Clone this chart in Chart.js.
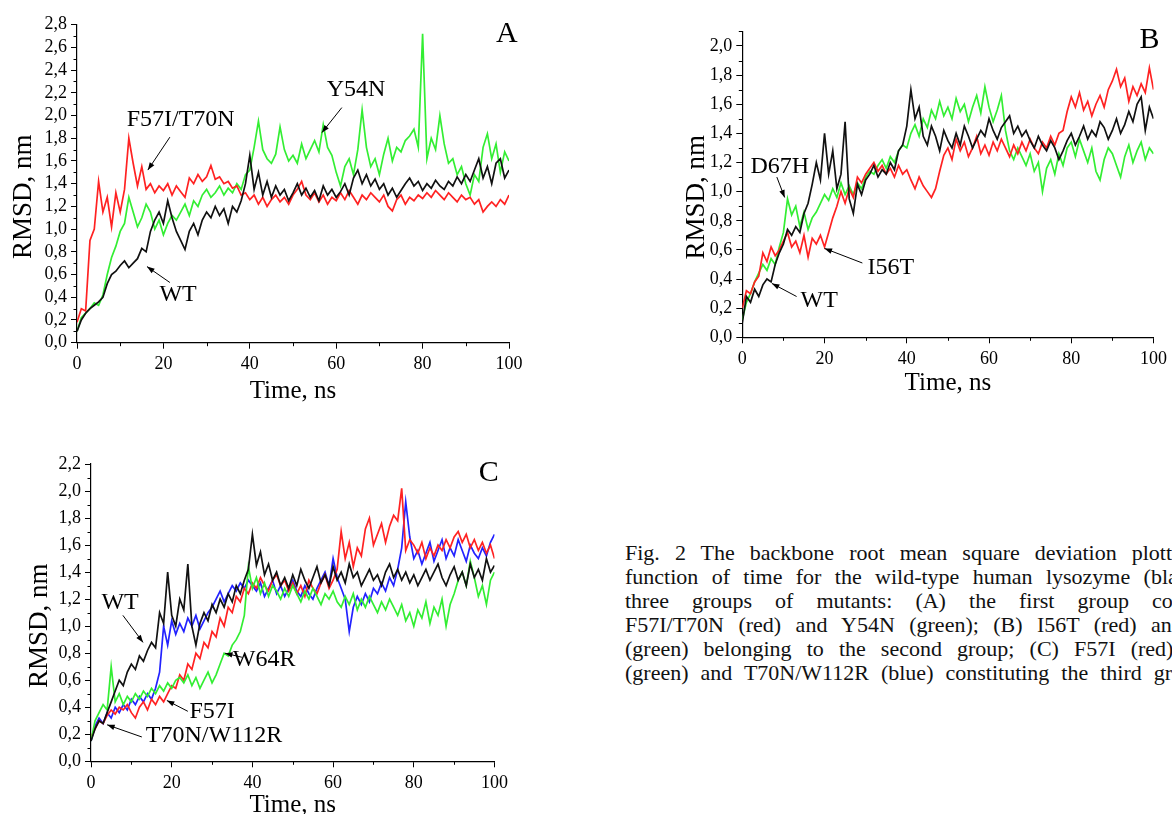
<!DOCTYPE html>
<html>
<head>
<meta charset="utf-8">
<script src="https://cdn.jsdelivr.net/npm/chart.js@4.4.0/dist/chart.umd.min.js"></script>
<style>
  html, body { margin: 0; padding: 0; background: #fff; }
  body { width: 1172px; height: 814px; overflow: hidden; position: relative; }
  canvas { position: absolute; }
  #caption { position: absolute; left: 625px; top: 541px; font: 22px 'Liberation Serif', 'Times New Roman', serif; color: #111; line-height: 24px; }
  #caption div { width: 626px; white-space: nowrap; text-align: justify; text-align-last: justify; }
  #caption div.last { text-align-last: left; word-spacing: 6.5px; }
</style>
</head>
<body>
<canvas id="chartA" width="560" height="410" style="left:0;top:0"></canvas>
<canvas id="chartB" width="532" height="410" style="left:640px;top:0"></canvas>
<canvas id="chartC" width="560" height="384" style="left:0;top:430px"></canvas>
<div id="caption">
  <div>Fig. 2 The backbone root mean square deviation plotted as a</div>
  <div>function of time for the wild-type human lysozyme (black) and</div>
  <div>three groups of mutants: (A) the first group comprising</div>
  <div>F57I/T70N (red) and Y54N (green); (B) I56T (red) and D67H</div>
  <div>(green) belonging to the second group; (C) F57I (red), W64R</div>
  <div class="last">(green) and T70N/W112R (blue) constituting the third group.</div>
</div>
<script>
// time, ns
const time = [0,1,2,3,4,5,6,7,8,9,10,11,12,13,14,15,16,17,18,19,20,21,22,23,24,25,26,27,28,29,30,
  31,32,33,34,35,36,37,38,39,40,41,42,43,44,45,46,47,48,49,50,51,52,53,54,55,56,57,58,59,60,
  61,62,63,64,65,66,67,68,69,70,71,72,73,74,75,76,77,78,79,80,81,82,83,84,85,86,87,88,89,90,
  91,92,93,94,95,96,97,98,99,100]

// panel A: WT, F57I/T70N, Y54N (RMSD, nm)
const wtA = [0.10,0.20,0.26,0.30,0.33,0.36,0.40,0.52,0.60,0.63,0.68,0.72,0.66,0.70,0.74,0.83,0.80,0.98,1.08,1.15,
  1.05,1.25,1.10,0.98,0.90,0.82,0.98,1.05,0.95,1.08,1.15,1.10,1.20,1.12,1.18,1.05,1.20,1.15,1.25,1.40,
  1.65,1.35,1.50,1.30,1.42,1.28,1.38,1.30,1.35,1.25,1.32,1.40,1.30,1.36,1.28,1.34,1.25,1.38,1.30,1.35,
  1.28,1.33,1.40,1.30,1.45,1.52,1.40,1.48,1.38,1.44,1.35,1.40,1.30,1.36,1.28,1.34,1.40,1.45,1.38,1.42,
  1.34,1.40,1.36,1.43,1.38,1.35,1.42,1.38,1.46,1.40,1.48,1.42,1.52,1.62,1.45,1.55,1.40,1.58,1.62,1.45,1.52]
const f57iT70nA = [0.18,0.30,0.28,0.90,1.00,1.42,1.15,1.28,1.02,1.32,1.15,1.35,1.80,1.58,1.38,1.55,1.35,1.40,1.32,1.38,
  1.34,1.40,1.30,1.38,1.33,1.28,1.45,1.40,1.48,1.42,1.46,1.56,1.44,1.46,1.40,1.42,1.36,1.38,1.30,1.32,
  1.26,1.30,1.22,1.28,1.20,1.26,1.30,1.24,1.28,1.22,1.30,1.35,1.42,1.30,1.26,1.32,1.24,1.30,1.22,1.28,
  1.25,1.32,1.26,1.34,1.28,1.22,1.30,1.26,1.32,1.28,1.24,1.30,1.20,1.16,1.26,1.30,1.22,1.28,1.25,1.30,
  1.27,1.32,1.28,1.34,1.30,1.26,1.32,1.28,1.24,1.30,1.26,1.28,1.22,1.26,1.15,1.20,1.24,1.20,1.26,1.22,1.30]
const y54nA = [0.10,0.22,0.26,0.30,0.35,0.33,0.42,0.60,0.75,0.85,0.98,1.05,1.28,1.15,1.02,1.10,1.22,1.15,1.00,1.08,
  0.95,1.05,1.12,1.08,1.15,1.22,1.12,1.25,1.20,1.30,1.35,1.28,1.32,1.38,1.30,1.36,1.32,1.40,1.35,1.48,
  1.52,1.72,1.95,1.70,1.62,1.58,1.66,1.90,1.70,1.60,1.65,1.58,1.75,1.62,1.70,1.78,1.68,1.92,1.72,1.65,
  1.50,1.38,1.55,1.62,1.48,1.70,2.05,1.72,1.55,1.62,1.48,1.66,1.80,1.60,1.72,1.68,1.78,1.82,1.88,1.72,
  2.72,1.62,1.80,1.70,2.00,1.75,1.58,1.62,1.48,1.55,1.40,1.30,1.48,1.42,1.72,1.84,1.62,1.75,1.50,1.68,1.60]

// panel B: WT, I56T, D67H
const wtB = [0.10,0.28,0.24,0.33,0.28,0.36,0.40,0.38,0.50,0.58,0.64,0.74,0.70,0.76,0.72,0.85,0.92,1.05,1.20,1.08,
  1.40,1.12,1.28,1.02,1.12,1.48,0.95,0.85,1.05,0.98,1.08,1.12,1.18,1.10,1.15,1.12,1.20,1.15,1.28,1.32,
  1.45,1.70,1.50,1.58,1.38,1.32,1.45,1.38,1.28,1.42,1.35,1.30,1.40,1.32,1.45,1.38,1.30,1.36,1.42,1.38,
  1.50,1.42,1.36,1.44,1.48,1.52,1.40,1.45,1.38,1.42,1.35,1.30,1.38,1.32,1.28,1.35,1.30,1.22,1.28,1.35,
  1.40,1.32,1.38,1.45,1.36,1.42,1.38,1.48,1.44,1.36,1.42,1.50,1.40,1.46,1.55,1.48,1.60,1.65,1.42,1.58,1.50]
const i56tB = [0.20,0.32,0.30,0.38,0.42,0.58,0.52,0.62,0.56,0.60,0.66,0.72,0.62,0.66,0.58,0.70,0.55,0.68,0.64,0.70,
  0.62,0.72,0.82,0.90,1.00,0.92,1.02,0.96,1.10,1.06,1.12,1.16,1.20,1.14,1.18,1.12,1.16,1.10,1.18,1.12,
  1.15,1.08,1.02,1.10,1.04,1.00,0.96,1.02,1.14,1.25,1.30,1.22,1.36,1.28,1.34,1.24,1.30,1.38,1.26,1.32,
  1.25,1.34,1.28,1.36,1.30,1.24,1.32,1.26,1.34,1.28,1.36,1.30,1.26,1.34,1.30,1.38,1.32,1.40,1.42,1.55,
  1.65,1.58,1.68,1.56,1.62,1.52,1.60,1.66,1.58,1.70,1.76,1.84,1.72,1.78,1.62,1.72,1.66,1.74,1.68,1.85,1.70]
const d67hB = [0.12,0.24,0.30,0.38,0.44,0.50,0.46,0.54,0.50,0.62,0.72,0.95,0.84,0.90,0.76,0.86,0.74,0.82,0.86,0.92,
  0.98,0.94,1.02,0.96,1.06,0.98,1.04,0.98,1.06,1.02,1.10,1.14,1.12,1.18,1.22,1.16,1.24,1.20,1.28,1.32,
  1.30,1.40,1.46,1.38,1.50,1.44,1.56,1.50,1.62,1.52,1.58,1.50,1.64,1.55,1.60,1.48,1.58,1.66,1.54,1.72,
  1.58,1.48,1.56,1.66,1.42,1.28,1.22,1.30,1.24,1.18,1.26,1.14,1.20,1.00,1.16,1.22,1.12,1.26,1.18,1.30,
  1.34,1.24,1.36,1.28,1.20,1.30,1.14,1.08,1.22,1.30,1.26,1.18,1.10,1.24,1.32,1.20,1.28,1.34,1.22,1.30,1.26]

// panel C: WT, F57I, W64R, T70N/W112R
const wtC = [0.15,0.24,0.30,0.28,0.36,0.44,0.52,0.60,0.56,0.66,0.72,0.68,0.78,0.74,0.82,0.88,0.84,1.10,1.02,1.40,
  1.08,1.00,1.20,1.12,1.46,1.00,0.86,1.02,1.10,1.04,1.16,1.10,1.20,1.14,1.24,1.18,1.30,1.24,1.34,1.42,
  1.68,1.45,1.55,1.38,1.46,1.34,1.40,1.30,1.36,1.28,1.38,1.30,1.42,1.34,1.28,1.36,1.44,1.32,1.38,1.30,
  1.44,1.34,1.40,1.32,1.46,1.36,1.40,1.30,1.36,1.42,1.34,1.38,1.30,1.40,1.46,1.36,1.42,1.34,1.40,1.32,
  1.38,1.30,1.36,1.42,1.34,1.40,1.46,1.36,1.30,1.38,1.44,1.34,1.40,1.30,1.46,1.36,1.42,1.34,1.50,1.40,1.45]
const f57iC = [0.18,0.24,0.30,0.28,0.34,0.38,0.35,0.40,0.38,0.42,0.36,0.32,0.40,0.44,0.38,0.46,0.42,0.48,0.44,0.50,
  0.56,0.54,0.64,0.60,0.72,0.68,0.80,0.76,0.88,0.84,0.96,0.92,1.06,1.00,1.14,1.10,1.22,1.18,1.28,1.24,
  1.32,1.28,1.36,1.30,1.26,1.34,1.38,1.30,1.34,1.26,1.32,1.24,1.30,1.22,1.34,1.28,1.24,1.32,1.38,1.28,
  1.34,1.42,1.70,1.50,1.62,1.44,1.58,1.52,1.72,1.80,1.60,1.68,1.76,1.62,1.74,1.82,1.78,2.02,1.56,1.64,
  1.60,1.54,1.62,1.50,1.58,1.52,1.60,1.56,1.64,1.58,1.66,1.70,1.62,1.68,1.58,1.64,1.56,1.62,1.54,1.60,1.50]
const w64rC = [0.15,0.30,0.36,0.42,0.38,0.70,0.44,0.50,0.42,0.48,0.44,0.50,0.46,0.52,0.48,0.54,0.50,0.56,0.52,0.58,
  0.54,0.60,0.62,0.58,0.64,0.56,0.62,0.54,0.60,0.66,0.58,0.64,0.72,0.80,0.78,0.86,0.90,0.96,1.08,1.44,
  1.28,1.36,1.24,1.32,1.22,1.30,1.26,1.20,1.28,1.22,1.30,1.24,1.18,1.26,1.20,1.28,1.22,1.16,1.24,1.20,
  1.26,1.18,1.14,1.22,1.16,1.24,1.12,1.20,1.14,1.22,1.16,1.10,1.18,1.12,1.20,1.14,1.08,1.16,1.04,1.10,
  1.00,1.12,1.06,1.18,1.02,1.14,1.08,1.20,1.00,1.16,1.24,1.34,1.40,1.30,1.48,1.36,1.22,1.30,1.16,1.34,1.40]
const t70nW112rC = [0.15,0.26,0.32,0.28,0.36,0.32,0.40,0.36,0.42,0.38,0.46,0.42,0.48,0.44,0.50,0.46,0.54,0.66,1.00,0.86,
  1.04,0.94,1.02,0.96,1.06,1.00,1.08,0.98,1.04,1.10,1.14,1.20,1.26,1.18,1.24,1.30,1.26,1.32,1.28,1.34,
  1.30,1.26,1.32,1.22,1.28,1.34,1.24,1.30,1.22,1.28,1.34,1.26,1.22,1.30,1.24,1.20,1.28,1.34,1.40,1.30,
  1.50,1.36,1.28,1.20,0.96,1.14,1.22,1.16,1.24,1.18,1.28,1.24,1.32,1.26,1.36,1.30,1.42,1.58,1.92,1.66,
  1.50,1.56,1.46,1.54,1.62,1.48,1.56,1.64,1.50,1.58,1.52,1.64,1.56,1.48,1.60,1.54,1.50,1.58,1.52,1.62,1.68]

const BLACK = '#111111', RED = '#ff2222', GREEN = '#33ee33', BLUE = '#2222ff'
const serif = "'Liberation Serif', 'Times New Roman', serif"

function pts(values) {
  return values.map((v, i) => ({ x: time[i], y: v }))
}

function arrow(ctx, x1, y1, x2, y2) {
  const ang = Math.atan2(y2 - y1, x2 - x1)
  ctx.beginPath()
  ctx.moveTo(x1, y1)
  ctx.lineTo(x2, y2)
  ctx.stroke()
  ctx.beginPath()
  ctx.moveTo(x2, y2)
  ctx.lineTo(x2 - 8 * Math.cos(ang - 0.35), y2 - 8 * Math.sin(ang - 0.35))
  ctx.lineTo(x2 - 8 * Math.cos(ang + 0.35), y2 - 8 * Math.sin(ang + 0.35))
  ctx.closePath()
  ctx.fill()
}

// minor ticks, axis titles, panel letter and the labelled arrows
const decor = {
  id: 'decor',
  afterDraw(chart, args, o) {
    const { ctx, chartArea: a, scales: { x, y } } = chart
    ctx.save()
    ctx.strokeStyle = '#000'
    ctx.fillStyle = '#000'
    ctx.lineWidth = 1
    ctx.beginPath()
    for (let t = 10; t < 100; t += 20) {
      const px = Math.round(x.getPixelForValue(t)) + 0.5
      ctx.moveTo(px, a.bottom); ctx.lineTo(px, a.bottom + 3.5)
    }
    for (let v = 0.1; v < y.max; v += 0.2) {
      const py = Math.round(y.getPixelForValue(v)) + 0.5
      ctx.moveTo(a.left, py); ctx.lineTo(a.left - 3.5, py)
    }
    ctx.stroke()

    ctx.textAlign = 'center'
    ctx.textBaseline = 'middle'
    ctx.font = '25px ' + serif
    ctx.fillText('Time, ns', (a.left + a.right) / 2, o.xTitleY)
    ctx.save()
    ctx.translate(o.yTitleX, (a.top + a.bottom) / 2 + 13)
    ctx.rotate(-Math.PI / 2)
    ctx.font = '27px ' + serif
    ctx.fillText('RMSD, nm', 0, 0)
    ctx.restore()

    ctx.font = '30px ' + serif
    ctx.fillText(o.letter, x.getPixelForValue(o.letterAt[0]), y.getPixelForValue(o.letterAt[1]))

    ctx.font = '24px ' + serif
    ctx.lineWidth = 1
    o.notes.forEach(n => {
      ctx.fillText(n.text, x.getPixelForValue(n.at[0]), y.getPixelForValue(n.at[1]))
      arrow(ctx, x.getPixelForValue(n.from[0]), y.getPixelForValue(n.from[1]),
                 x.getPixelForValue(n.to[0]), y.getPixelForValue(n.to[1]))
    })
    ctx.restore()
  }
}

function makePanel(id, series, box, deco) {
  new Chart(document.getElementById(id), {
    type: 'line',
    data: {
      datasets: series.map(s => ({
        data: pts(s.values),
        borderColor: s.color,
        borderWidth: 1.7,
        pointRadius: 0,
        tension: 0
      }))
    },
    options: {
      animation: false,
      responsive: false,
      layout: { padding: { left: 0, top: box.top, right: box.right, bottom: 0 } },
      plugins: { legend: { display: false }, tooltip: { enabled: false }, decor: deco },
      scales: {
        x: {
          type: 'linear', min: 0, max: 100,
          ticks: { stepSize: 20, color: '#000', padding: 5, maxRotation: 0, font: { family: serif, size: 18 } },
          grid: { drawOnChartArea: false, tickLength: 6, color: '#000' },
          border: { color: '#000', width: 1.2 },
          afterFit: s => { s.height = box.xh }
        },
        y: {
          min: 0, max: box.ymax,
          ticks: {
            stepSize: 0.2, includeBounds: false, autoSkip: false, color: '#000', padding: 4,
            font: { family: serif, size: 18 },
            callback: v => v.toFixed(1).replace('.', ',')
          },
          grid: { drawOnChartArea: false, tickLength: 6, color: '#000' },
          border: { color: '#000', width: 1.2 },
          afterFit: s => { s.width = box.yw }
        }
      }
    },
    plugins: [decor]
  })
}

makePanel('chartA', [
  { values: wtA, color: BLACK },
  { values: f57iT70nA, color: RED },
  { values: y54nA, color: GREEN }
], { top: 24.7, right: 51, xh: 67.3, yw: 77, ymax: 2.8 }, {
  letter: 'A', letterAt: [99.5, 2.72], xTitleY: 391, yTitleX: 24,
  notes: [
    { text: 'F57I/T70N', at: [24, 1.96], from: [21.5, 1.81], to: [16.4, 1.52] },
    { text: 'WT', at: [23.4, 0.42], from: [21.5, 0.53], to: [16.2, 0.67] },
    { text: 'Y54N', at: [64.6, 2.23], from: [61.3, 2.07], to: [56.7, 1.85] }
  ]
})

makePanel('chartB', [
  { values: wtB, color: BLACK },
  { values: i56tB, color: RED },
  { values: d67hB, color: GREEN }
], { top: 31.4, right: 17, xh: 72.7, yw: 102.3, ymax: 2.1 }, {
  letter: 'B', letterAt: [99, 2.04], xTitleY: 383, yTitleX: 57,
  notes: [
    { text: 'D67H', at: [9.1, 1.17], from: [8.4, 1.10], to: [10.3, 0.96] },
    { text: 'I56T', at: [36.1, 0.48], from: [29.2, 0.51], to: [20.0, 0.61] },
    { text: 'WT', at: [18.7, 0.25], from: [13.2, 0.28], to: [7.2, 0.37] }
  ]
})

makePanel('chartC', [
  { values: wtC, color: BLACK },
  { values: w64rC, color: GREEN },
  { values: f57iC, color: RED },
  { values: t70nW112rC, color: BLUE }
], { top: 34, right: 65.5, xh: 52.7, yw: 91, ymax: 2.2 }, {
  letter: 'C', letterAt: [98.6, 2.13], xTitleY: 375, yTitleX: 40,
  notes: [
    { text: 'WT', at: [7.2, 1.17], from: [7.9, 1.08], to: [12.9, 0.88] },
    { text: 'W64R', at: [42.9, 0.75], from: [37.4, 0.77], to: [33.2, 0.80] },
    { text: 'F57I', at: [30, 0.37], from: [24, 0.37], to: [18.8, 0.45] },
    { text: 'T70N/W112R', at: [30.5, 0.19], from: [12.6, 0.18], to: [4.0, 0.27] }
  ]
})
</script>
</body>
</html>
